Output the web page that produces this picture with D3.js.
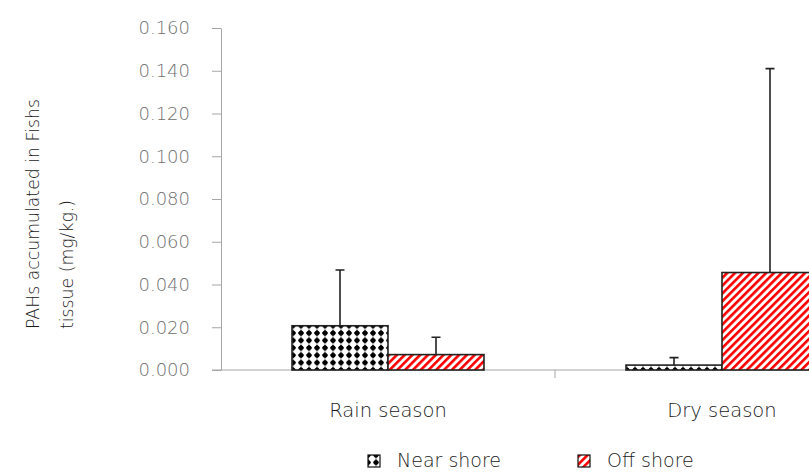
<!DOCTYPE html>
<html>
<head>
<meta charset="utf-8">
<script src="https://cdn.jsdelivr.net/npm/d3@7"></script>
<style>
  html, body { margin: 0; padding: 0; background: #fff; }
  svg { display: block; }
  text { font-family: 'DejaVu Sans', sans-serif; }
</style>
</head>
<body>
<svg id="chart" width="809" height="472"></svg>
<script>
// Seasons and sampling sites
const seasons = ["Rain season", "Dry season"];
const sites = ["Near shore", "Off shore"];
// Mean PAH concentration (mg/kg.) per season, ordered as sites
const nearShore = [0.0207, 0.0023];
const offShore = [0.0072, 0.0456];
// Upper error (mean + SD)
const nearShoreErr = [0.0468, 0.0058];
const offShoreErr = [0.0153, 0.1410];
const yTicks = [0, 0.02, 0.04, 0.06, 0.08, 0.10, 0.12, 0.14, 0.16];

const svg = d3.select("#chart");
const margin = { left: 221, top: 28, bottom: 102 };
const plotBottom = 472 - margin.bottom; // 370

const x0 = d3.scaleBand().domain(seasons).range([221, 889]);
const barW = 96;
const x1 = d3.scaleBand().domain(sites)
  .range([(x0.bandwidth() - 2 * barW) / 2, (x0.bandwidth() + 2 * barW) / 2]);
const y = d3.scaleLinear().domain([0, 0.16]).range([plotBottom, margin.top]);

// Fill patterns
const defs = svg.append("defs");
const dots = defs.append("pattern")
  .attr("id", "dots").attr("patternUnits", "userSpaceOnUse")
  .attr("width", 8).attr("height", 7.4)
  .attr("x", x0(seasons[0]) + x1(sites[0])).attr("y", plotBottom - 7.4 + 3.7);
dots.append("rect").attr("width", 8).attr("height", 7.4).attr("fill", "#fff");
dots.append("line").attr("x1", 4).attr("x2", 4).attr("y1", 0).attr("y2", 7.4)
  .attr("stroke", "#8a8a8a").attr("stroke-width", 0.9);
dots.append("path").attr("d", "M4,0.6 L7.2,3.7 L4,6.8 L0.8,3.7 Z").attr("fill", "#000");
dots.append("circle").attr("cx", 4).attr("cy", 3.7).attr("r", 2.4).attr("fill", "#000");

const hatch = defs.append("pattern")
  .attr("id", "hatch").attr("patternUnits", "userSpaceOnUse")
  .attr("width", 5.5).attr("height", 5.5)
  .attr("patternTransform", "rotate(45)");
hatch.append("rect").attr("width", 5.5).attr("height", 5.5).attr("fill", "#fff");
hatch.append("rect").attr("width", 2.6).attr("height", 5.5).attr("fill", "#ff0000");

// Y axis
const yAxis = d3.axisLeft(y).tickValues(yTicks).tickFormat(d3.format(".3f"))
  .tickSize(9).tickSizeOuter(0).tickPadding(22);
const gy = svg.append("g").attr("transform", `translate(${margin.left},0)`).call(yAxis);
gy.attr("font-family", null);
gy.select(".domain").attr("stroke", "#a6a6a6");
gy.selectAll(".tick line").attr("stroke", "#a6a6a6");
gy.selectAll(".tick text").attr("fill", "#6e6e6e")
  .style("font-size", "18px").style("font-weight", "200");

// X axis baseline with a separator tick between seasons
svg.append("line").attr("x1", 212).attr("x2", 809)
  .attr("y1", plotBottom).attr("y2", plotBottom).attr("stroke", "#a6a6a6").attr("stroke-width", 1.2);
svg.append("line").attr("x1", x0(seasons[1])).attr("x2", x0(seasons[1]))
  .attr("y1", plotBottom).attr("y2", plotBottom + 8).attr("stroke", "#a6a6a6");

// Category labels
svg.append("g").selectAll("text").data(seasons).join("text")
  .attr("x", d => x0(d) + x0.bandwidth() / 2).attr("y", 417)
  .attr("text-anchor", "middle").attr("fill", "#1a1a1a")
  .style("font-size", "19.5px").style("font-weight", "200")
  .text(d => d);

// Bars
const rows = seasons.map((s, i) => ({
  season: s,
  values: [
    { site: sites[0], v: nearShore[i], err: nearShoreErr[i], fill: "url(#dots)" },
    { site: sites[1], v: offShore[i], err: offShoreErr[i], fill: "url(#hatch)" }
  ]
}));

const groups = svg.append("g").selectAll("g").data(rows).join("g")
  .attr("transform", d => `translate(${x0(d.season)},0)`);

groups.selectAll("rect").data(d => d.values).join("rect")
  .attr("x", d => x1(d.site)).attr("width", x1.bandwidth())
  .attr("y", d => y(d.v)).attr("height", d => y(0) - y(d.v))
  .attr("fill", d => d.fill).attr("stroke", "#222").attr("stroke-width", 1.6);

// Error bars (upper only)
groups.selectAll("path.err").data(d => d.values).join("path")
  .attr("class", "err")
  .attr("d", d => {
    const cx = x1(d.site) + x1.bandwidth() / 2;
    return `M${cx},${y(d.v)}V${y(d.err)}M${cx - 4.5},${y(d.err)}H${cx + 4.5}`;
  })
  .attr("fill", "none").attr("stroke", "#222").attr("stroke-width", 1.6);

// Y axis title
const title = svg.append("text")
  .attr("transform", "translate(0,329) rotate(-90)")
  .attr("fill", "#1a1a1a").style("font-size", "17.3px").style("font-weight", "200");
title.append("tspan").attr("x", 0).attr("y", 39).text("PAHs accumulated in Fishs");
title.append("tspan").attr("x", 0).attr("y", 73).text("tissue  (mg/kg.)");

// Legend
const legend = svg.append("g").selectAll("g").data([
  { label: sites[0], fill: "url(#dots)", x: 368 },
  { label: sites[1], fill: "url(#hatch)", x: 578 }
]).join("g").attr("transform", d => `translate(${d.x},455)`);
legend.append("rect").attr("width", 12).attr("height", 12)
  .attr("fill", d => d.fill).attr("stroke", "#111").attr("stroke-width", 1.2);
legend.append("text").attr("x", 29).attr("y", 12).attr("fill", "#1a1a1a")
  .style("font-size", "19px").style("font-weight", "200")
  .text(d => d.label);
</script>
</body>
</html>
